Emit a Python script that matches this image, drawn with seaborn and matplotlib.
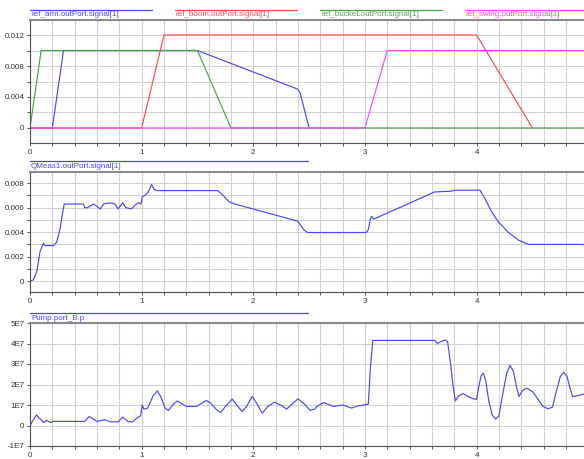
import matplotlib
matplotlib.use("Agg")
import matplotlib.pyplot as plt
from matplotlib.lines import Line2D
from matplotlib.ticker import MultipleLocator
import seaborn as sns
import pandas as pd

# ---------------- data ----------------
arm_t = [0, 0.2, 0.3, 1.5, 2.4, 2.42, 2.5]
arm_v = [0, 0, 0.01, 0.01, 0.005, 0.0045, 0]
boom_t = [0, 1.0, 1.2, 4.0, 4.5]
boom_v = [0, 0, 0.012, 0.012, 0]
bucket_t = [0, 0.1, 1.5, 1.8, 4.98]
bucket_v = [0, 0.01, 0.01, 0, 0]
swing_t = [0, 3.0, 3.2, 4.98]
swing_v = [0, 0, 0.01, 0.01]

q_t = [0, 0.003, 0.03, 0.06, 0.09, 0.12, 0.135, 0.21, 0.24, 0.27, 0.285, 0.306,
       0.48, 0.49, 0.515, 0.57, 0.63, 0.66, 0.72, 0.76, 0.79, 0.83, 0.86, 0.91,
       0.94, 0.97, 0.995, 1.005, 1.03, 1.06, 1.09, 1.11, 1.14, 1.68, 1.72, 1.78,
       1.82, 2.397, 2.457, 2.487, 3.011, 3.03, 3.05, 3.06, 3.077, 3.625, 3.775,
       3.805, 4.03, 4.075, 4.135, 4.195, 4.285, 4.375, 4.465, 4.94, 4.98]
q_v = [0.0055, 0.0, 0.0001, 0.00076, 0.0024, 0.0031, 0.0029, 0.0029, 0.0032,
       0.0043, 0.0052, 0.0063, 0.0063, 0.006, 0.006, 0.0063, 0.0059, 0.0063,
       0.0064, 0.0063, 0.0059, 0.0064, 0.006, 0.0059, 0.0062, 0.0064, 0.0063,
       0.0069, 0.0070, 0.0073, 0.0079, 0.0075, 0.0074, 0.0074, 0.0071, 0.0065,
       0.00634, 0.0049, 0.00416, 0.00397, 0.00397, 0.0042, 0.0051, 0.0053,
       0.00506, 0.00729, 0.00735, 0.00743, 0.00743, 0.00675, 0.00566, 0.00484,
       0.00397, 0.00335, 0.003, 0.003, 0.00295]

p_t = [0, 0.03, 0.06, 0.08, 0.10, 0.12, 0.15, 0.18, 0.21, 0.49, 0.53, 0.60,
       0.67, 0.72, 0.79, 0.83, 0.88, 0.92, 0.957, 0.99,
       1.005, 1.02, 1.055, 1.10, 1.14, 1.17, 1.21, 1.24, 1.28, 1.32, 1.36, 1.40,
       1.49, 1.54, 1.58, 1.62, 1.67, 1.71, 1.75, 1.81, 1.85, 1.90, 1.94, 1.99,
       2.03, 2.08, 2.13, 2.19, 2.25, 2.30, 2.34, 2.40, 2.45, 2.51, 2.55,
       2.57, 2.63, 2.72, 2.80, 2.88, 2.94, 3.03, 3.05, 3.07, 3.625,
       3.65, 3.68, 3.72, 3.74, 3.77, 3.79, 3.81, 3.84, 3.88, 3.93, 3.97, 4.00,
       4.02, 4.04, 4.06, 4.08, 4.11, 4.14, 4.17, 4.20, 4.23, 4.27, 4.30, 4.33,
       4.36, 4.38, 4.41, 4.45, 4.50, 4.55, 4.59, 4.64, 4.68, 4.71, 4.75, 4.78,
       4.81, 4.84, 4.86, 4.91, 4.97]
p_v = [0, 0.28e7, 0.52e7, 0.36e7, 0.3e7, 0.15e7, 0.25e7, 0.15e7, 0.2e7, 0.2e7,
       0.44e7, 0.2e7, 0.28e7, 0.18e7, 0.18e7, 0.41e7, 0.18e7, 0.18e7, 0.36e7,
       0.47e7,
       1.01e7, 0.8e7, 0.85e7, 1.42e7, 1.69e7, 1.42e7, 0.85e7, 0.73e7, 1.01e7,
       1.2e7, 1.06e7, 0.93e7, 0.93e7, 1.09e7, 1.22e7, 1.09e7, 0.77e7, 0.64e7,
       0.93e7, 1.29e7, 1.01e7, 0.68e7, 0.93e7, 1.42e7, 1.09e7, 0.6e7, 0.93e7,
       1.14e7, 0.98e7, 0.8e7, 1.01e7, 1.3e7, 1.09e7, 0.73e7, 0.8e7,
       0.93e7, 1.12e7, 0.93e7, 1.0e7, 0.85e7, 0.96e7, 1.04e7, 2.88e7, 4.15e7,
       4.15e7,
       4.0e7, 4.1e7, 4.17e7, 4.1e7, 2.88e7, 1.9e7, 1.2e7, 1.45e7, 1.56e7,
       1.4e7, 1.3e7, 1.28e7, 1.9e7, 2.42e7, 2.55e7, 2.23e7, 1.17e7, 0.52e7,
       0.31e7, 0.47e7, 1.41e7, 2.55e7, 2.93e7, 2.63e7, 1.82e7, 1.41e7, 1.71e7,
       1.82e7, 1.66e7, 1.28e7, 0.96e7, 0.81e7, 0.9e7, 1.58e7, 2.39e7, 2.6e7,
       2.39e7, 1.77e7, 1.41e7, 1.46e7, 1.55e7]

top_yticks = [0, 0.004, 0.008, 0.012]
top_ylabels = ["0", "0.004", "0.008", "0.012"]
mid_yticks = [0, 0.002, 0.004, 0.006, 0.008]
mid_ylabels = ["0", "0.002", "0.004", "0.006", "0.008"]
bot_yticks = [-1e7, 0, 1e7, 2e7, 3e7, 4e7, 5e7]
bot_ylabels = ["-1E7", "0", "1E7", "2E7", "3E7", "4E7", "5E7"]
xticks = [0, 1, 2, 3, 4]
xlabels = ["0", "1", "2", "3", "4"]

top_names = ["ref_arm.outPort.signal[1]", "ref_boom.outPort.signal[1]",
             "ref_bucket.outPort.signal[1]", "ref_swing.outPort.signal[1]"]
mid_name = "QMeas1.outPort.signal[1]"
bot_name = "Pump.port_B.p"

BLUE = "#4848ff"
RED = "#ff4a4a"
GREEN = "#46a646"
MAGENTA = "#ff48ff"

# ---------------- figure ----------------
sns.set_style("white")
plt.rcParams['font.family'] = ['Liberation Sans', 'DejaVu Sans']
W, H = 584, 459
fig = plt.figure(figsize=(W / 100, H / 100), dpi=100)

def fx(px):
    return px / W

def fy(py):
    return 1 - py / H

def make_ax(top_px, bot_px):
    return fig.add_axes([fx(30), fy(bot_px), fx(W - 30 + 2), (bot_px - top_px) / H])

ax1 = make_ax(20, 143)
ax2 = make_ax(172, 292.3)
ax3 = make_ax(323, 446)

LW = 0.85
for t, v, c in [(arm_t, arm_v, BLUE), (boom_t, boom_v, RED),
                (bucket_t, bucket_v, GREEN), (swing_t, swing_v, MAGENTA)]:
    sns.lineplot(data=pd.DataFrame({"t": t, "v": v}), x="t", y="v", ax=ax1,
                 color=c, linewidth=LW, estimator=None, sort=False)
sns.lineplot(data=pd.DataFrame({"t": q_t, "v": q_v}), x="t", y="v", ax=ax2,
             color=BLUE, linewidth=LW, estimator=None, sort=False)
sns.lineplot(data=pd.DataFrame({"t": p_t, "v": p_v}), x="t", y="v", ax=ax3,
             color=BLUE, linewidth=LW, estimator=None, sort=False)

settings = [
    (ax1, (-0.00194, 0.01394), top_yticks, top_ylabels, 0.002),
    (ax2, (-0.00092, 0.00892), mid_yticks, mid_ylabels, 0.001),
    (ax3, (-1e7, 5e7), bot_yticks, bot_ylabels, 1e7),
]
for ax, ylim, yt, yl, ystep in settings:
    ax.set_xlim(0, 4.98)
    ax.set_ylim(*ylim)
    ax.set_xlabel("")
    ax.set_ylabel("")
    ax.set_xticks(xticks)
    ax.set_xticklabels(xlabels)
    ax.xaxis.set_minor_locator(MultipleLocator(0.2))
    ax.set_yticks(yt)
    ax.set_yticklabels(yl)
    ax.yaxis.set_minor_locator(MultipleLocator(ystep))
    ax.grid(True, which="both", color="#d2d2d2", linewidth=0.8)
    ax.set_axisbelow(True)
    ax.tick_params(which="both", direction="out", length=2.5, width=0.7,
                   color="#555555", labelsize=5.8, labelcolor="#333333",
                   bottom=True, left=True, pad=1.5)
    ax.spines["right"].set_visible(False)
    for s in ["left", "bottom"]:
        ax.spines[s].set_color("#505050")
        ax.spines[s].set_linewidth(0.8)
    ax.spines["top"].set_color("#8a8a8a")
    ax.spines["top"].set_linewidth(1.5)

# ---------------- legends (line above text) ----------------
def legend_entry(x0, x1, y_line, name, color):
    fig.add_artist(Line2D([fx(x0), fx(x1)], [fy(y_line), fy(y_line)],
                          color=color, linewidth=0.9, transform=fig.transFigure))
    fig.text(fx(x0 + 1), fy(y_line + 5), name, color=color, fontsize=5.8,
             ha="left", va="center")

for x0, name, c in zip([30, 175, 320, 465], top_names, [BLUE, RED, GREEN, MAGENTA]):
    legend_entry(x0, x0 + 122, 10, name, c)
legend_entry(30, 308, 161, mid_name, BLUE)
legend_entry(30, 308, 313, bot_name, BLUE)

fig.savefig("out.png", dpi=100)
